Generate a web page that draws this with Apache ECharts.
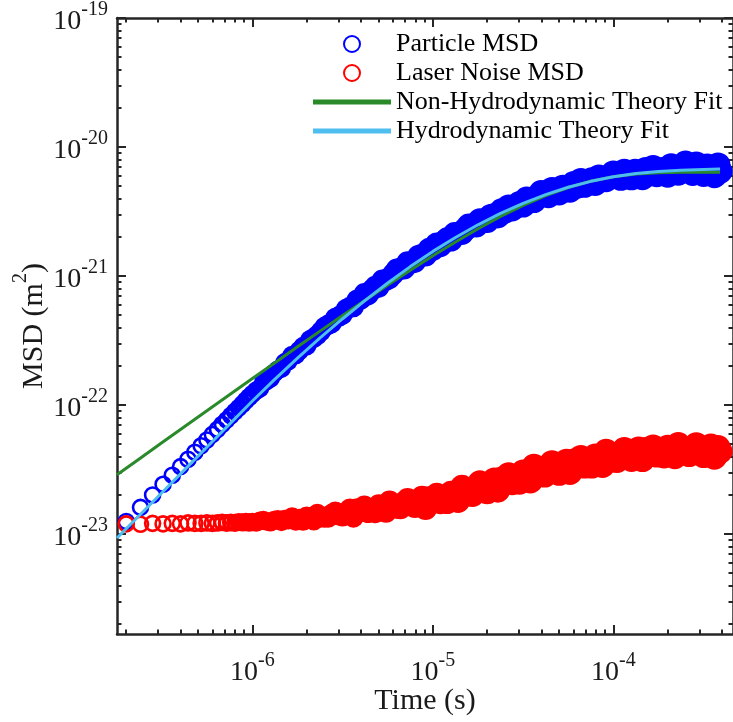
<!DOCTYPE html>
<html>
<head>
<meta charset="utf-8">
<script src="https://cdn.jsdelivr.net/npm/echarts@6/dist/echarts.min.js"></script>
<style>
  html, body { margin: 0; padding: 0; background: #fff; }
  #msd_chart { width: 733px; height: 722px; }
</style>
</head>
<body>
<div id="msd_chart"></div>
<script>
// lag times in microseconds
var timeUs = [0.20,0.24,0.28,0.32,0.36,0.40,0.44,0.48,0.52,0.56,0.60,0.64,0.68,0.72,0.76,0.80,0.84,0.88,0.92,0.96,1.00,
    1.05,1.10,1.15,1.20,1.26,1.32,1.38,1.45,1.51,1.58,1.66,1.74,1.82,1.91,2.00,2.09,2.19,2.29,2.40,2.51,2.63,2.75,2.88,3.02,3.16,3.31,3.47,3.63,3.80,3.98,
    4.17,4.37,4.57,4.79,5.01,5.25,5.50,5.75,6.03,6.31,6.61,6.92,7.24,7.59,7.94,8.32,8.71,9.12,9.55,10.0,
    10.5,11.0,11.5,12.0,12.6,13.2,13.8,14.5,15.1,15.8,16.6,17.4,18.2,19.1,20.0,20.9,21.9,22.9,24.0,25.1,26.3,27.5,28.8,30.2,31.6,33.1,34.7,36.3,38.0,39.8,
    41.7,43.7,45.7,47.9,50.1,52.5,55.0,57.5,60.3,63.1,66.1,69.2,72.4,75.9,79.4,83.2,87.1,91.2,95.5,100,
    105,110,115,120,126,132,138,145,151,158,166,174,182,191,200,209,219,229,240,251,263,275,288,302,316,331,347,363,380,390];

// MSD in m^2
var particleMsd = [1.25e-23,1.61e-23,2.01e-23,2.43e-23,2.86e-23,3.33e-23,3.80e-23,4.31e-23,4.83e-23,5.36e-23,5.92e-23,6.47e-23,7.08e-23,7.66e-23,8.28e-23,8.89e-23,9.51e-23,1.016e-22,1.084e-22,1.151e-22,1.219e-22,
    1.294e-22,1.346e-22,1.489e-22,1.542e-22,1.614e-22,1.774e-22,1.867e-22,1.927e-22,2.128e-22,2.203e-22,2.421e-22,2.466e-22,2.642e-22,2.831e-22,2.897e-22,3.199e-22,3.319e-22,3.483e-22,3.733e-22,4.036e-22,
    4.188e-22,4.315e-22,4.732e-22,4.864e-22,5.047e-22,5.546e-22,5.728e-22,5.767e-22,6.517e-22,6.592e-22,7.294e-22,7.161e-22,7.745e-22,8.279e-22,8.241e-22,9.247e-22,9.333e-22,9.638e-22,
    1.035e-21,1.125e-21,1.138e-21,1.146e-21,1.274e-21,1.271e-21,1.294e-21,1.422e-21,1.455e-21,1.449e-21,1.618e-21,1.610e-21,
    1.774e-21,1.722e-21,1.837e-21,1.941e-21,1.905e-21,2.123e-21,2.118e-21,2.153e-21,2.296e-21,2.466e-21,2.472e-21,2.460e-21,2.704e-21,2.661e-21,2.679e-21,
    2.917e-21,2.958e-21,2.911e-21,3.214e-21,3.170e-21,3.443e-21,3.304e-21,3.483e-21,3.648e-21,3.548e-21,
    3.954e-21,3.828e-21,3.846e-21,4.102e-21,4.436e-21,4.335e-21,4.198e-21,4.688e-21,4.467e-21,4.406e-21,4.887e-21,4.853e-21,4.624e-21,5.212e-21,4.977e-21,
    5.508e-21,5.047e-21,5.346e-21,5.585e-21,5.212e-21,5.861e-21,5.610e-21,5.572e-21,5.875e-21,6.295e-21,
    6.095e-21,5.715e-21,6.501e-21,5.984e-21,5.768e-21,6.501e-21,6.310e-21,5.781e-21,6.683e-21,6.194e-21,6.950e-21,6.095e-21,6.471e-21,6.730e-21,6.053e-21,
    7.145e-21,6.471e-21,6.266e-21,6.776e-21,7.516e-21,6.887e-21,6.237e-21,7.379e-21,6.516e-21,6.124e-21,7.129e-21,6.792e-21,5.984e-21,7.261e-21,6.471e-21];

var noiseMsd = [1.20e-23,1.19e-23,1.21e-23,1.20e-23,1.21e-23,1.20e-23,1.22e-23,1.21e-23,1.21e-23,1.22e-23,1.21e-23,1.22e-23,1.23e-23,1.22e-23,1.23e-23,1.22e-23,1.24e-23,1.23e-23,1.24e-23,1.23e-23,1.24e-23,
    1.230e-23,1.265e-23,1.282e-23,1.253e-23,1.242e-23,1.276e-23,1.297e-23,1.250e-23,1.300e-23,1.288e-23,
    1.358e-23,1.265e-23,1.318e-23,1.265e-23,1.371e-23,1.355e-23,1.276e-23,1.435e-23,1.349e-23,1.343e-23,
    1.340e-23,1.432e-23,1.486e-23,1.400e-23,1.374e-23,1.479e-23,1.567e-23,1.352e-23,1.570e-23,1.500e-23,
    1.644e-23,1.472e-23,1.570e-23,1.472e-23,1.675e-23,1.644e-23,1.486e-23,1.791e-23,1.618e-23,1.603e-23,
    1.589e-23,1.762e-23,1.862e-23,1.687e-23,1.626e-23,1.807e-23,1.936e-23,1.574e-23,1.914e-23,1.786e-23,
    2.032e-23,1.750e-23,1.914e-23,1.758e-23,2.104e-23,2.061e-23,1.799e-23,2.333e-23,2.037e-23,2.023e-23,
    2.009e-23,2.323e-23,2.523e-23,2.203e-23,2.109e-23,2.438e-23,2.642e-23,2.178e-23,2.679e-23,2.529e-23,
    2.891e-23,2.495e-23,2.735e-23,2.523e-23,3.027e-23,2.958e-23,2.582e-23,3.350e-23,2.924e-23,2.897e-23,
    2.864e-23,3.296e-23,3.573e-23,3.105e-23,2.958e-23,3.404e-23,3.673e-23,3.000e-23,3.681e-23,3.451e-23,
    3.926e-23,3.365e-23,3.690e-23,3.365e-23,4.027e-23,3.917e-23,3.404e-23,4.385e-23,3.811e-23,3.758e-23,
    3.724e-23,4.217e-23,4.519e-23,3.972e-23,3.784e-23,4.276e-23,4.560e-23,3.776e-23,4.519e-23,4.246e-23,
    4.732e-23,4.093e-23,4.395e-23,4.027e-23,4.699e-23,4.550e-23,3.972e-23,4.943e-23,4.315e-23,4.227e-23,
    4.130e-23,4.645e-23,4.920e-23,4.295e-23,4.055e-23,4.539e-23,4.808e-23,3.945e-23,4.677e-23,4.365e-23];

// fit curves (s, m^2)
var fitTime = [1.778e-7,2.371e-7,3.162e-7,4.217e-7,5.623e-7,7.499e-7,1.0e-6,1.334e-6,1.778e-6,2.371e-6,3.162e-6,4.217e-6,5.623e-6,7.499e-6,
    1.0e-5,1.334e-5,1.778e-5,2.371e-5,3.162e-5,4.217e-5,5.623e-5,7.499e-5,1.0e-4,1.334e-4,1.778e-4,2.371e-4,3.162e-4,3.9e-4];
var nonHydroFit = [2.88e-23,3.84e-23,5.12e-23,6.82e-23,9.07e-23,1.207e-22,1.605e-22,2.131e-22,2.826e-22,3.741e-22,4.939e-22,6.50e-22,8.52e-22,1.110e-21,
    1.435e-21,1.838e-21,2.324e-21,2.893e-21,3.530e-21,4.201e-21,4.857e-21,5.436e-21,5.881e-21,6.166e-21,6.311e-21,6.365e-21,6.378e-21,6.38e-21];
var hydroFit = [9.31e-24,1.40e-23,2.10e-23,3.16e-23,4.75e-23,7.14e-23,1.074e-22,1.589e-22,2.312e-22,3.311e-22,4.667e-22,6.471e-22,8.83e-22,1.183e-21,
    1.552e-21,1.991e-21,2.495e-21,3.055e-21,3.656e-21,4.276e-21,4.875e-21,5.420e-21,5.875e-21,6.223e-21,6.457e-21,6.607e-21,6.699e-21,6.74e-21];

// axes (powers of ten shown as labels)
var xTickExp = [-6, -5, -4];
var yTickExp = [-23, -22, -21, -20, -19];
var xRange = [1.778e-7, 4.6e-4];
var yRange = [1.68e-24, 1e-19];

var serif = 'Liberation Serif';
var axisColor = '#262626';
var xLo = Math.log10(xRange[0]), xHi = Math.log10(xRange[1]);
var yLo = Math.log10(yRange[0]), yHi = Math.log10(yRange[1]);

function minorExps(lo, hi) {
    var out = [];
    for (var n = Math.floor(lo); n <= Math.ceil(hi); n++) {
        for (var k = 2; k <= 9; k++) {
            var v = n + Math.log10(k);
            if (v > lo && v < hi) out.push(v);
        }
    }
    return out;
}

var tickRich = {
    b: { fontFamily: serif, fontSize: 28, color: '#1a1a1a', padding: [8, 0, 0, 0] },
    s: { fontFamily: serif, fontSize: 20, color: '#1a1a1a', verticalAlign: 'top' }
};
function sciLabel(v) {
    return '{b|10}{s|' + Math.round(v) + '}';
}

// overlay value axis (in log10 units) that only draws ticks / labels
function tickAxis(pos, lo, hi, ticks, len, labels, showLine) {
    return {
        type: 'value',
        position: pos,
        min: lo,
        max: hi,
        axisLine: { show: !!showLine, onZero: false, lineStyle: { color: axisColor, width: 2.5 } },
        axisTick: { show: true, inside: true, length: len, customValues: ticks, lineStyle: { color: axisColor, width: 2 } },
        axisLabel: labels ? {
            show: true, customValues: labels, formatter: sciLabel,
            margin: (pos === 'bottom') ? 17 : 9, rich: tickRich
        } : { show: false },
        splitLine: { show: false }
    };
}

// the measured series get very dense past ~1 us and the overlapping rings merge
// into a solid band: thicken and slightly enlarge the ring as sampling gets denser
function clamp01(v) { return Math.max(0, Math.min(1, v)); }
function ringStyle(tUs) {
    var lt = Math.log10(tUs);
    var f1 = clamp01((lt - Math.log10(0.6)) / (Math.log10(3) - Math.log10(0.6)));
    var f2 = clamp01((lt - Math.log10(0.6)) / (Math.log10(30) - Math.log10(0.6)));
    var d = 17.6 + 7.4 * f2;
    var w = 2.6 + f1 * (d / 2 - 2.6);
    return { w: w, size: d - w };
}
function ringData(msd) {
    return timeUs.map(function (t, i) {
        var st = ringStyle(t);
        return { value: [t * 1e-6, msd[i]], symbolSize: st.size, itemStyle: { borderWidth: st.w } };
    });
}

var nonHydroData = fitTime.map(function (t, i) { return [t, nonHydroFit[i]]; });
var hydroData = fitTime.map(function (t, i) { return [t, hydroFit[i]]; });

var xMinor = minorExps(xLo, xHi);
var yMinor = minorExps(yLo, yHi);

var lineIcon = 'path://M0,0L78,0L78,5L0,5Z';

var msd_option = {
    animation: false,
    backgroundColor: '#fff',
    grid: { left: 117, top: 18, width: 619, bottom: 88, containLabel: false },
    legend: {
        orient: 'vertical',
        left: 308,
        top: 26,
        itemWidth: 78,
        itemHeight: 16,
        itemGap: 3,
        textStyle: { fontFamily: serif, fontSize: 26, color: '#000' },
        data: [
            { name: 'Particle MSD', icon: 'circle' },
            { name: 'Laser Noise MSD', icon: 'circle' },
            { name: 'Non-Hydrodynamic Theory Fit', icon: lineIcon },
            { name: 'Hydrodynamic Theory Fit', icon: lineIcon }
        ]
    },
    xAxis: [
        {
            type: 'log',
            position: 'bottom',
            min: xRange[0],
            max: xRange[1],
            axisLine: { show: true, onZero: false, lineStyle: { color: axisColor, width: 2.5 } },
            axisTick: { show: false },
            axisLabel: { show: false },
            splitLine: { show: false },
            name: 'Time (s)',
            nameLocation: 'middle',
            nameGap: 52,
            nameTextStyle: { fontFamily: serif, fontSize: 30, color: '#1a1a1a' }
        },
        tickAxis('bottom', xLo, xHi, xTickExp, 9, xTickExp, false),
        tickAxis('bottom', xLo, xHi, xMinor, 4.5, null, false),
        tickAxis('top', xLo, xHi, xTickExp, 9, null, true),
        tickAxis('top', xLo, xHi, xMinor, 4.5, null, false)
    ],
    yAxis: [
        {
            type: 'log',
            position: 'left',
            min: yRange[0],
            max: yRange[1],
            axisLine: { show: true, onZero: false, lineStyle: { color: axisColor, width: 2.5 } },
            axisTick: { show: false },
            axisLabel: { show: false },
            splitLine: { show: false },
            name: '{a|MSD (m}{s|2}{a|)}',
            nameLocation: 'middle',
            nameGap: 68,
            nameTextStyle: {
                rich: {
                    a: { fontFamily: serif, fontSize: 30, color: '#1a1a1a', padding: [8, 0, 0, 0] },
                    s: { fontFamily: serif, fontSize: 20, color: '#1a1a1a', verticalAlign: 'top' }
                }
            }
        },
        tickAxis('left', yLo, yHi, yTickExp, 9, yTickExp, false),
        tickAxis('left', yLo, yHi, yMinor, 4.5, null, false),
        tickAxis('right', yLo, yHi, yTickExp, 9, null, true),
        tickAxis('right', yLo, yHi, yMinor, 4.5, null, false)
    ],
    series: [
        {
            name: 'Particle MSD',
            type: 'scatter',
            symbol: 'circle',
            symbolSize: 14.5,
            itemStyle: { color: 'rgba(0,0,0,0)', borderColor: '#0000ff', borderWidth: 2.5, opacity: 1 },
            emphasis: { disabled: true },
            data: ringData(particleMsd)
        },
        {
            name: 'Laser Noise MSD',
            type: 'scatter',
            symbol: 'circle',
            symbolSize: 14.5,
            itemStyle: { color: 'rgba(0,0,0,0)', borderColor: '#ff0000', borderWidth: 2.5, opacity: 1 },
            emphasis: { disabled: true },
            data: ringData(noiseMsd)
        },
        {
            name: 'Non-Hydrodynamic Theory Fit',
            type: 'line',
            symbol: 'none',
            lineStyle: { color: '#2a8a2a', width: 3 },
            itemStyle: { color: '#2a8a2a' },
            data: nonHydroData
        },
        {
            name: 'Hydrodynamic Theory Fit',
            type: 'line',
            symbol: 'none',
            lineStyle: { color: '#4dbeee', width: 3 },
            itemStyle: { color: '#4dbeee' },
            data: hydroData
        }
    ]
};

var msd_chart = echarts.init(document.getElementById('msd_chart'));
msd_chart.setOption(msd_option);
</script>
</body>
</html>
